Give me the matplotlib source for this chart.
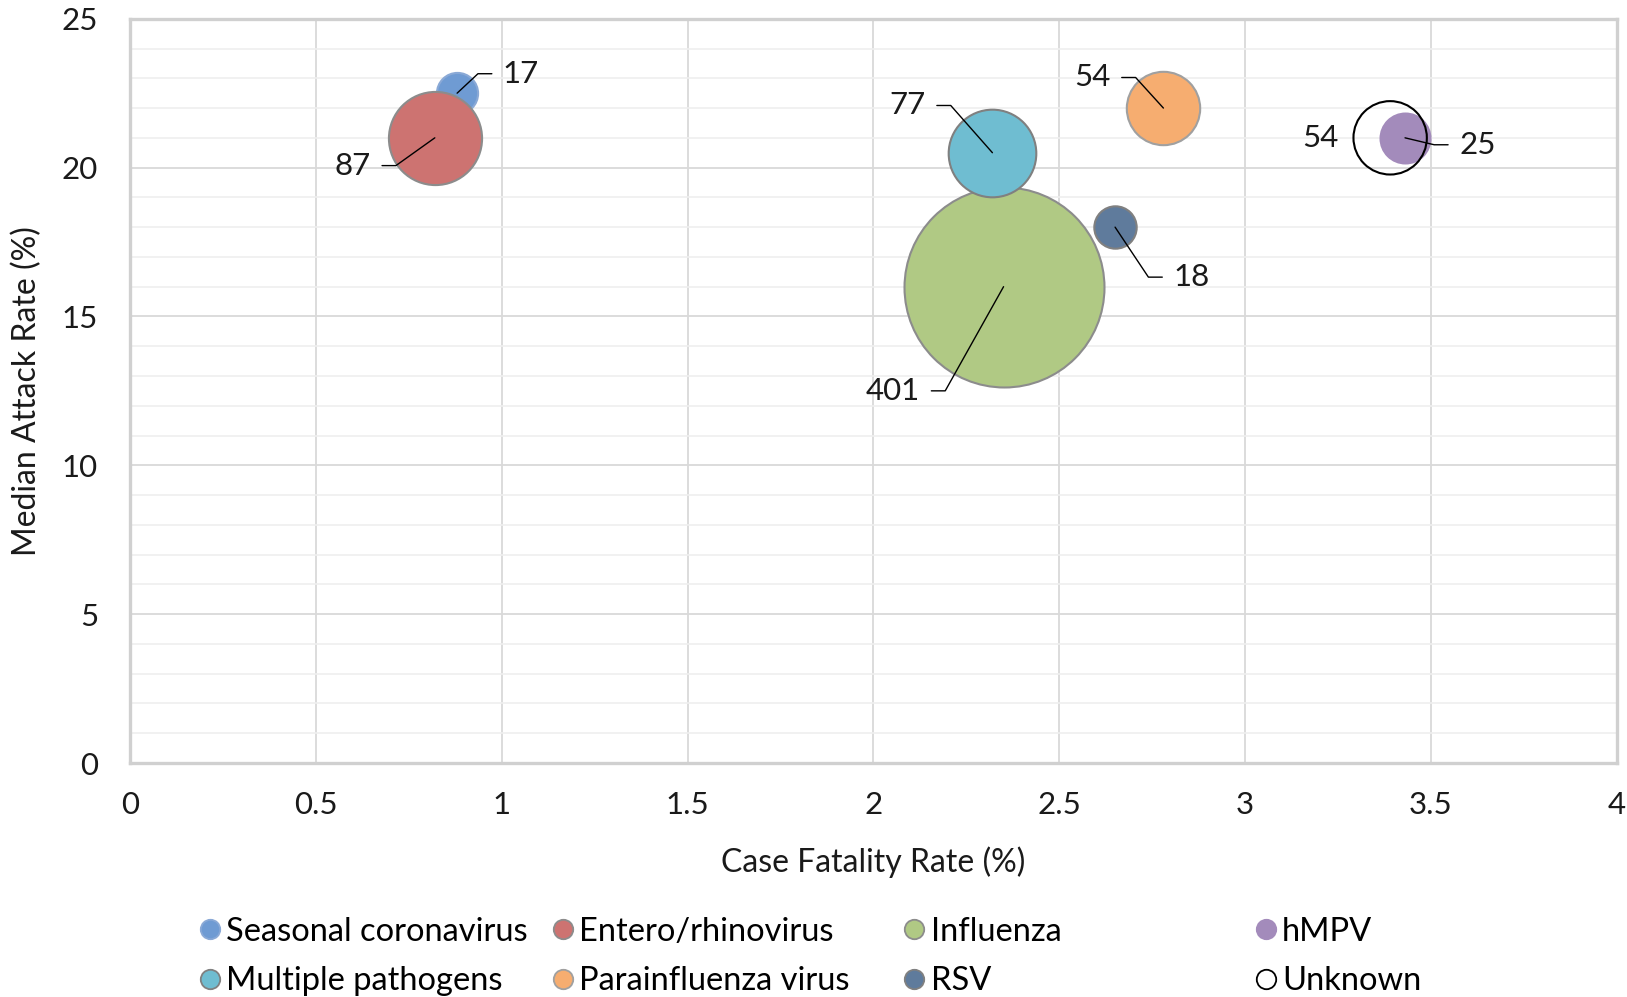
import math
import matplotlib
matplotlib.use("Agg")
import matplotlib.pyplot as plt
from matplotlib.lines import Line2D
from matplotlib.ticker import MultipleLocator

plt.rcParams['font.family'] = ['Lato', 'DejaVu Sans']

# outbreak groups
pathogens = ["Seasonal coronavirus", "Entero/rhinovirus", "Influenza", "hMPV",
             "Multiple pathogens", "Parainfluenza virus", "RSV", "Unknown"]
cfr = [0.88, 0.82, 2.35, 3.43, 2.32, 2.78, 2.65, 3.39]          # case fatality rate (%)
attack = [22.5, 21.0, 16.0, 21.0, 20.5, 22.0, 18.0, 21.0]       # median attack rate (%)
n_outbreaks = [17, 87, 401, 25, 77, 54, 18, 54]

colors = ["#6f9bd3", "#cd7371", "#b0c984", "#a38bbb",
          "#6fbdd1", "#f6ad70", "#5f7b9c", "none"]
edges = ["#8aa9d6", "#8c8c8c", "#8c8c8c", "#a38bbb",
         "#808080", "#a0a0a0", "#808080", "black"]

# label placement: offset of the text (points) from the bubble centre
label_offsets = [(33, 14), (-46, -20), (-60, -75), (39, -5),
                 (-48, 34), (-38, 22), (42, -36), (-37, 0)]
leader = [True, True, True, True, True, True, True, False]

fig = plt.figure(figsize=(16.27, 9.97), dpi=100)
ax = fig.add_axes([0.0799, 0.2347, 0.9139, 0.7465])

size_scale = 51.7
for i, name in enumerate(pathogens):
    ax.scatter(cfr[i], attack[i], s=n_outbreaks[i] * size_scale,
               facecolors=colors[i], edgecolors=edges[i], linewidths=1.5,
               zorder=3 + i)

# data labels with elbow leader lines
for i in range(len(pathogens)):
    dx, dy = label_offsets[i]
    ha = "left" if dx > 0 else "right"
    props = None
    if leader[i]:
        side = 1 if dx > 0 else -1
        ex = dx - side * 18
        angle_b = math.degrees(math.atan2(dy, ex))
        props = dict(arrowstyle="-", color="black", lw=1.0,
                     shrinkA=6, shrinkB=0,
                     relpos=(0, 0.5) if dx > 0 else (1, 0.5),
                     connectionstyle="angle,angleA=0,angleB=%.2f,rad=0" % angle_b)
    ax.annotate(str(n_outbreaks[i]), xy=(cfr[i], attack[i]), xytext=(dx, dy),
                textcoords="offset points", ha=ha, va="center", fontsize=22.5,
                color="#1a1a1a", arrowprops=props, zorder=20)

ax.set_xlim(0, 4)
ax.set_ylim(0, 25)
ax.yaxis.set_major_locator(MultipleLocator(5))
ax.yaxis.set_minor_locator(MultipleLocator(1))
ax.set_xticks([0, 0.5, 1, 1.5, 2, 2.5, 3, 3.5, 4])
ax.set_xticklabels(["0", "0.5", "1", "1.5", "2", "2.5", "3", "3.5", "4"])
ax.grid(which="major", color="#d9d9d9", lw=1.3, zorder=0)
ax.grid(which="minor", axis="y", color="#efefef", lw=1.2, zorder=0)
ax.set_axisbelow(True)
ax.tick_params(which="both", length=0, labelsize=22.5, colors="#1a1a1a")
ax.tick_params(axis="x", pad=20)
ax.tick_params(axis="y", pad=23)
for sp in ax.spines.values():
    sp.set_color("#d0d0d0")
    sp.set_linewidth(2.4)

ax.set_xlabel("Case Fatality Rate (%)", fontsize=23, color="#1a1a1a", labelpad=20)
ax.set_ylabel("Median Attack Rate (%)", fontsize=23, color="#1a1a1a", labelpad=14)

# legend laid out as four equal-width columns
col_x = [0.109, 0.326, 0.542, 0.758]
for c in range(4):
    handles = []
    for i in (c, c + 4):
        fc = colors[i] if colors[i] != "none" else "white"
        handles.append(Line2D([], [], ls="none", marker="o", markersize=14,
                              markerfacecolor=fc, markeredgecolor=edges[i],
                              markeredgewidth=1.3, label=pathogens[i]))
    fig.legend(handles=handles, loc="upper left", bbox_to_anchor=(col_x[c], 0.097),
               frameon=False, fontsize=23.5, handletextpad=0.0, labelspacing=0.6,
               borderpad=0, handlelength=1.0)

fig.savefig("out.png", dpi=100)
